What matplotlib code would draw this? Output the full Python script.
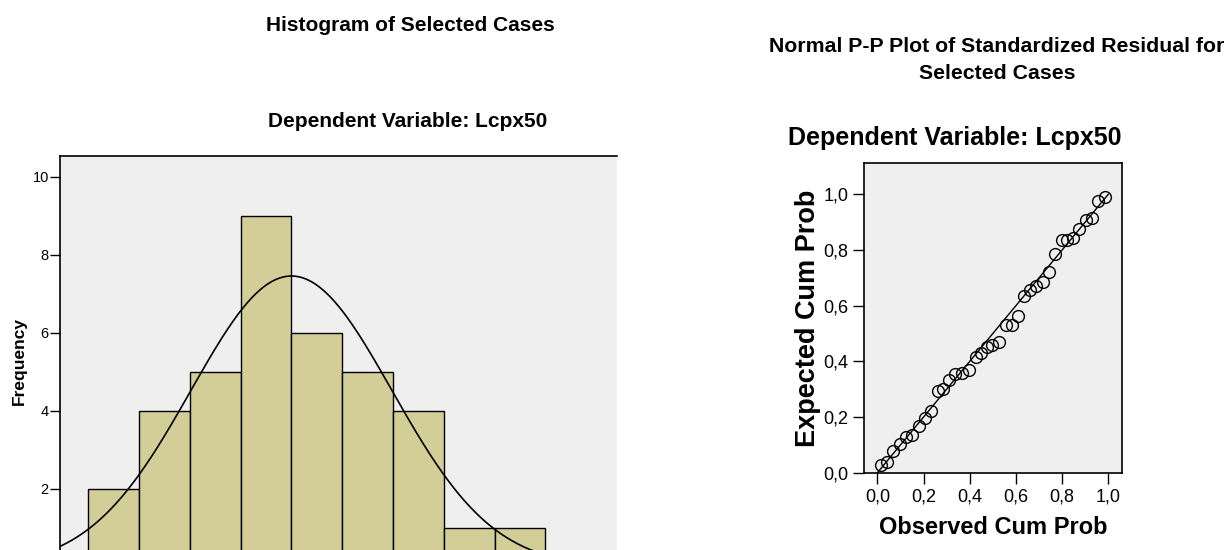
import numpy as np
import matplotlib
matplotlib.use('Agg')
import matplotlib.pyplot as plt
from matplotlib.ticker import FuncFormatter

plt.rcParams['font.family'] = ['Liberation Sans', 'DejaVu Sans']

# ヒストグラムのデータ（標準化残差, ビン幅 0.5）
bin_edges = [-2.0, -1.5, -1.0, -0.5, 0.0, 0.5, 1.0, 1.5, 2.0, 2.5]
counts = [2, 4, 5, 9, 6, 5, 4, 1, 1]
resid_mean = 0.0
resid_std = 0.99
n_cases = 37

# P-P プロットのデータ
observed_cum = [0.014, 0.040, 0.069, 0.098, 0.123, 0.152, 0.182, 0.206, 0.231, 0.264,
                0.286, 0.310, 0.336, 0.365, 0.395, 0.426, 0.449, 0.473, 0.498, 0.527,
                0.556, 0.584, 0.608, 0.636, 0.661, 0.687, 0.716, 0.745, 0.769, 0.798,
                0.823, 0.848, 0.874, 0.903, 0.928, 0.954, 0.986]
expected_cum = [0.028, 0.040, 0.078, 0.102, 0.129, 0.134, 0.169, 0.196, 0.223, 0.295,
                0.302, 0.333, 0.354, 0.357, 0.369, 0.417, 0.429, 0.450, 0.457, 0.471,
                0.531, 0.531, 0.564, 0.635, 0.656, 0.671, 0.686, 0.722, 0.786, 0.836,
                0.836, 0.842, 0.875, 0.908, 0.914, 0.974, 0.989]

bg = '#efefef'
bar_color = '#d3ce98'

fig = plt.figure(figsize=(12.29, 5.5), dpi=100)

# --- ヒストグラム ---
ax1 = fig.add_axes([0.0488, -0.0309, 0.4532, 0.7473])
ax1.set_facecolor(bg)
widths = np.diff(bin_edges)
ax1.bar(bin_edges[:-1], counts, width=widths, align='edge', color=bar_color,
        edgecolor='black', linewidth=1.0, zorder=2)
xs = np.linspace(-2.4, 3.3, 400)
bw = bin_edges[1] - bin_edges[0]
ys = n_cases * bw / (resid_std * np.sqrt(2 * np.pi)) * np.exp(-(xs - resid_mean) ** 2 / (2 * resid_std ** 2))
ax1.plot(xs, ys, color='black', linewidth=1.2, zorder=3)
ax1.set_xlim(-2.279, 3.205)
ax1.set_ylim(0, 10.53)
ax1.set_yticks([2, 4, 6, 8, 10])
ax1.tick_params(axis='y', direction='out', length=7, width=1, labelsize=10.5, pad=1)
ax1.set_xticks([])
for s in ['right', 'bottom']:
    ax1.spines[s].set_visible(False)
ax1.spines['top'].set_linewidth(1.2)
ax1.spines['left'].set_linewidth(1.2)
ax1.set_ylabel('Frequency', fontsize=12.5, fontweight='bold', labelpad=4)

fig.text(410 / 1229, 1 - 31 / 550, 'Histogram of Selected Cases', ha='center', va='baseline',
         fontsize=15, fontweight='bold')
fig.text(408 / 1229, 1 - 127 / 550, 'Dependent Variable: Lcpx50', ha='center', va='baseline',
         fontsize=15, fontweight='bold')

# --- 正規 P-P プロット ---
ax2 = fig.add_axes([0.703, 0.1405, 0.2097, 0.5625])
ax2.set_facecolor(bg)
ax2.plot([0, 1], [0, 1], color='black', linewidth=1.0, zorder=2)
ax2.plot(observed_cum, expected_cum, linestyle='none', marker='o', markersize=8.5,
         markerfacecolor='none', markeredgecolor='black', markeredgewidth=1.0, zorder=3)
ax2.set_xlim(-0.058, 1.058)
ax2.set_ylim(0, 1.111)
ticks = [0.0, 0.2, 0.4, 0.6, 0.8, 1.0]
ax2.set_xticks(ticks)
ax2.set_yticks(ticks)
comma = FuncFormatter(lambda v, p: ('%.1f' % v).replace('.', ','))
ax2.xaxis.set_major_formatter(comma)
ax2.yaxis.set_major_formatter(comma)
ax2.tick_params(direction='out', length=8, width=1, labelsize=13, pad=3)
for s in ax2.spines.values():
    s.set_linewidth(1.2)
ax2.set_xlabel('Observed Cum Prob', fontsize=17, fontweight='bold', labelpad=8)
ax2.set_ylabel('Expected Cum Prob', fontsize=19.5, fontweight='bold', labelpad=2)

fig.text(997 / 1229, 1 - 52 / 550, 'Normal P-P Plot of Standardized Residual for', ha='center',
         va='baseline', fontsize=15.3, fontweight='bold')
fig.text(997 / 1229, 1 - 79 / 550, 'Selected Cases', ha='center', va='baseline',
         fontsize=15.3, fontweight='bold')
fig.text(955 / 1229, 1 - 145 / 550, 'Dependent Variable: Lcpx50', ha='center', va='baseline',
         fontsize=18, fontweight='bold')

fig.savefig('out.png', dpi=100)
